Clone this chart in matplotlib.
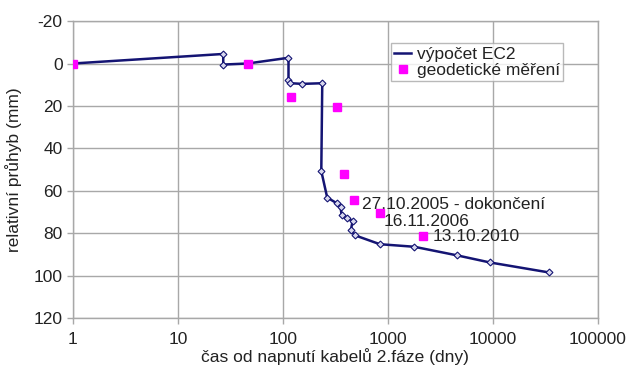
import matplotlib
matplotlib.use("Agg")
from matplotlib import pyplot as plt
from matplotlib.ticker import FixedLocator, NullLocator

# výpočet EC2 (time in days, deflection in mm)
calc_days = [1, 27, 27, 46, 113, 113, 118, 153, 237, 232, 264, 329, 354, 362,
             404, 461, 444, 485, 839, 1780, 4600, 9360, 34100]
calc_defl = [0, -4.5, 0.5, 0, -2.7, 8, 9.3, 9.6, 9.3, 50.7, 63.2, 66, 67.6, 71.5,
             73, 74.2, 78.6, 81, 85.2, 86.4, 90.5, 93.8, 98.5]

# geodetické měření
meas_days = [1, 46, 119, 324, 384, 474, 839, 2170]
meas_defl = [0, 0, 15.9, 20.5, 52.2, 64.5, 70.7, 81.4]

labels = {5: "27.10.2005 - dokončení", 6: "16.11.2006", 7: "13.10.2010"}
label_offsets = {5: (6, -3), 6: (3, -6), 7: (7, 0)}

x_ticks = [1, 10, 100, 1000, 10000, 100000]
y_ticks = [-20, 0, 20, 40, 60, 80, 100, 120]

plt.rcParams["font.family"] = ["Liberation Sans", "DejaVu Sans"]
plt.rcParams["font.size"] = 12.5
plt.rcParams["axes.unicode_minus"] = False
text_color = "#222222"

fig = plt.figure(figsize=(6.26, 3.70), dpi=100)
ax = fig.add_axes([0.1166, 0.1405, 0.955 - 0.1166, 0.943 - 0.1405])

ax.plot(calc_days, calc_defl, color="#141473", lw=1.8, marker="D", ms=3.5,
        mfc="#d8d8ee", mec="#141473", mew=0.8, label="výpočet EC2", zorder=3)
ax.plot(meas_days, meas_defl, ls="none", marker="s", ms=6, color="#ff00ff",
        mec="#ff00ff", label="geodetické měření", zorder=4)

for i, text in labels.items():
    ax.annotate(text, (meas_days[i], meas_defl[i]), xytext=label_offsets[i],
                textcoords="offset points", va="center", ha="left",
                color=text_color, fontsize=12.5)

ax.set_xscale("log")
ax.set_xlim(1, 100000)
ax.set_ylim(120, -20)
ax.xaxis.set_major_locator(FixedLocator(x_ticks))
ax.xaxis.set_minor_locator(NullLocator())
ax.set_xticklabels([str(t) for t in x_ticks])
ax.set_yticks(y_ticks)

ax.grid(True, color="#a8a8a8", lw=1.0)
ax.set_axisbelow(True)
for s in ax.spines.values():
    s.set_color("#a8a8a8")
    s.set_linewidth(1.0)
ax.tick_params(colors="#a8a8a8", labelcolor=text_color, length=4, width=1.0)
ax.tick_params(axis="x", pad=6)

ax.set_xlabel("čas od napnutí kabelů 2.fáze (dny)", color=text_color, labelpad=1)
ax.set_ylabel("relativní průhyb (mm)", color=text_color, labelpad=8)

leg = ax.legend(loc="upper left", bbox_to_anchor=(0.605, 0.925), frameon=True,
                fancybox=False, edgecolor="#a8a8a8", handlelength=1.0,
                handletextpad=0.3, borderpad=0.2, labelspacing=0.05,
                borderaxespad=0)
leg.get_frame().set_linewidth(1.0)
for t in leg.get_texts():
    t.set_color(text_color)
# legend line sample without marker
leg.legend_handles[0].set_marker("")

fig.savefig("out.png", dpi=100)
